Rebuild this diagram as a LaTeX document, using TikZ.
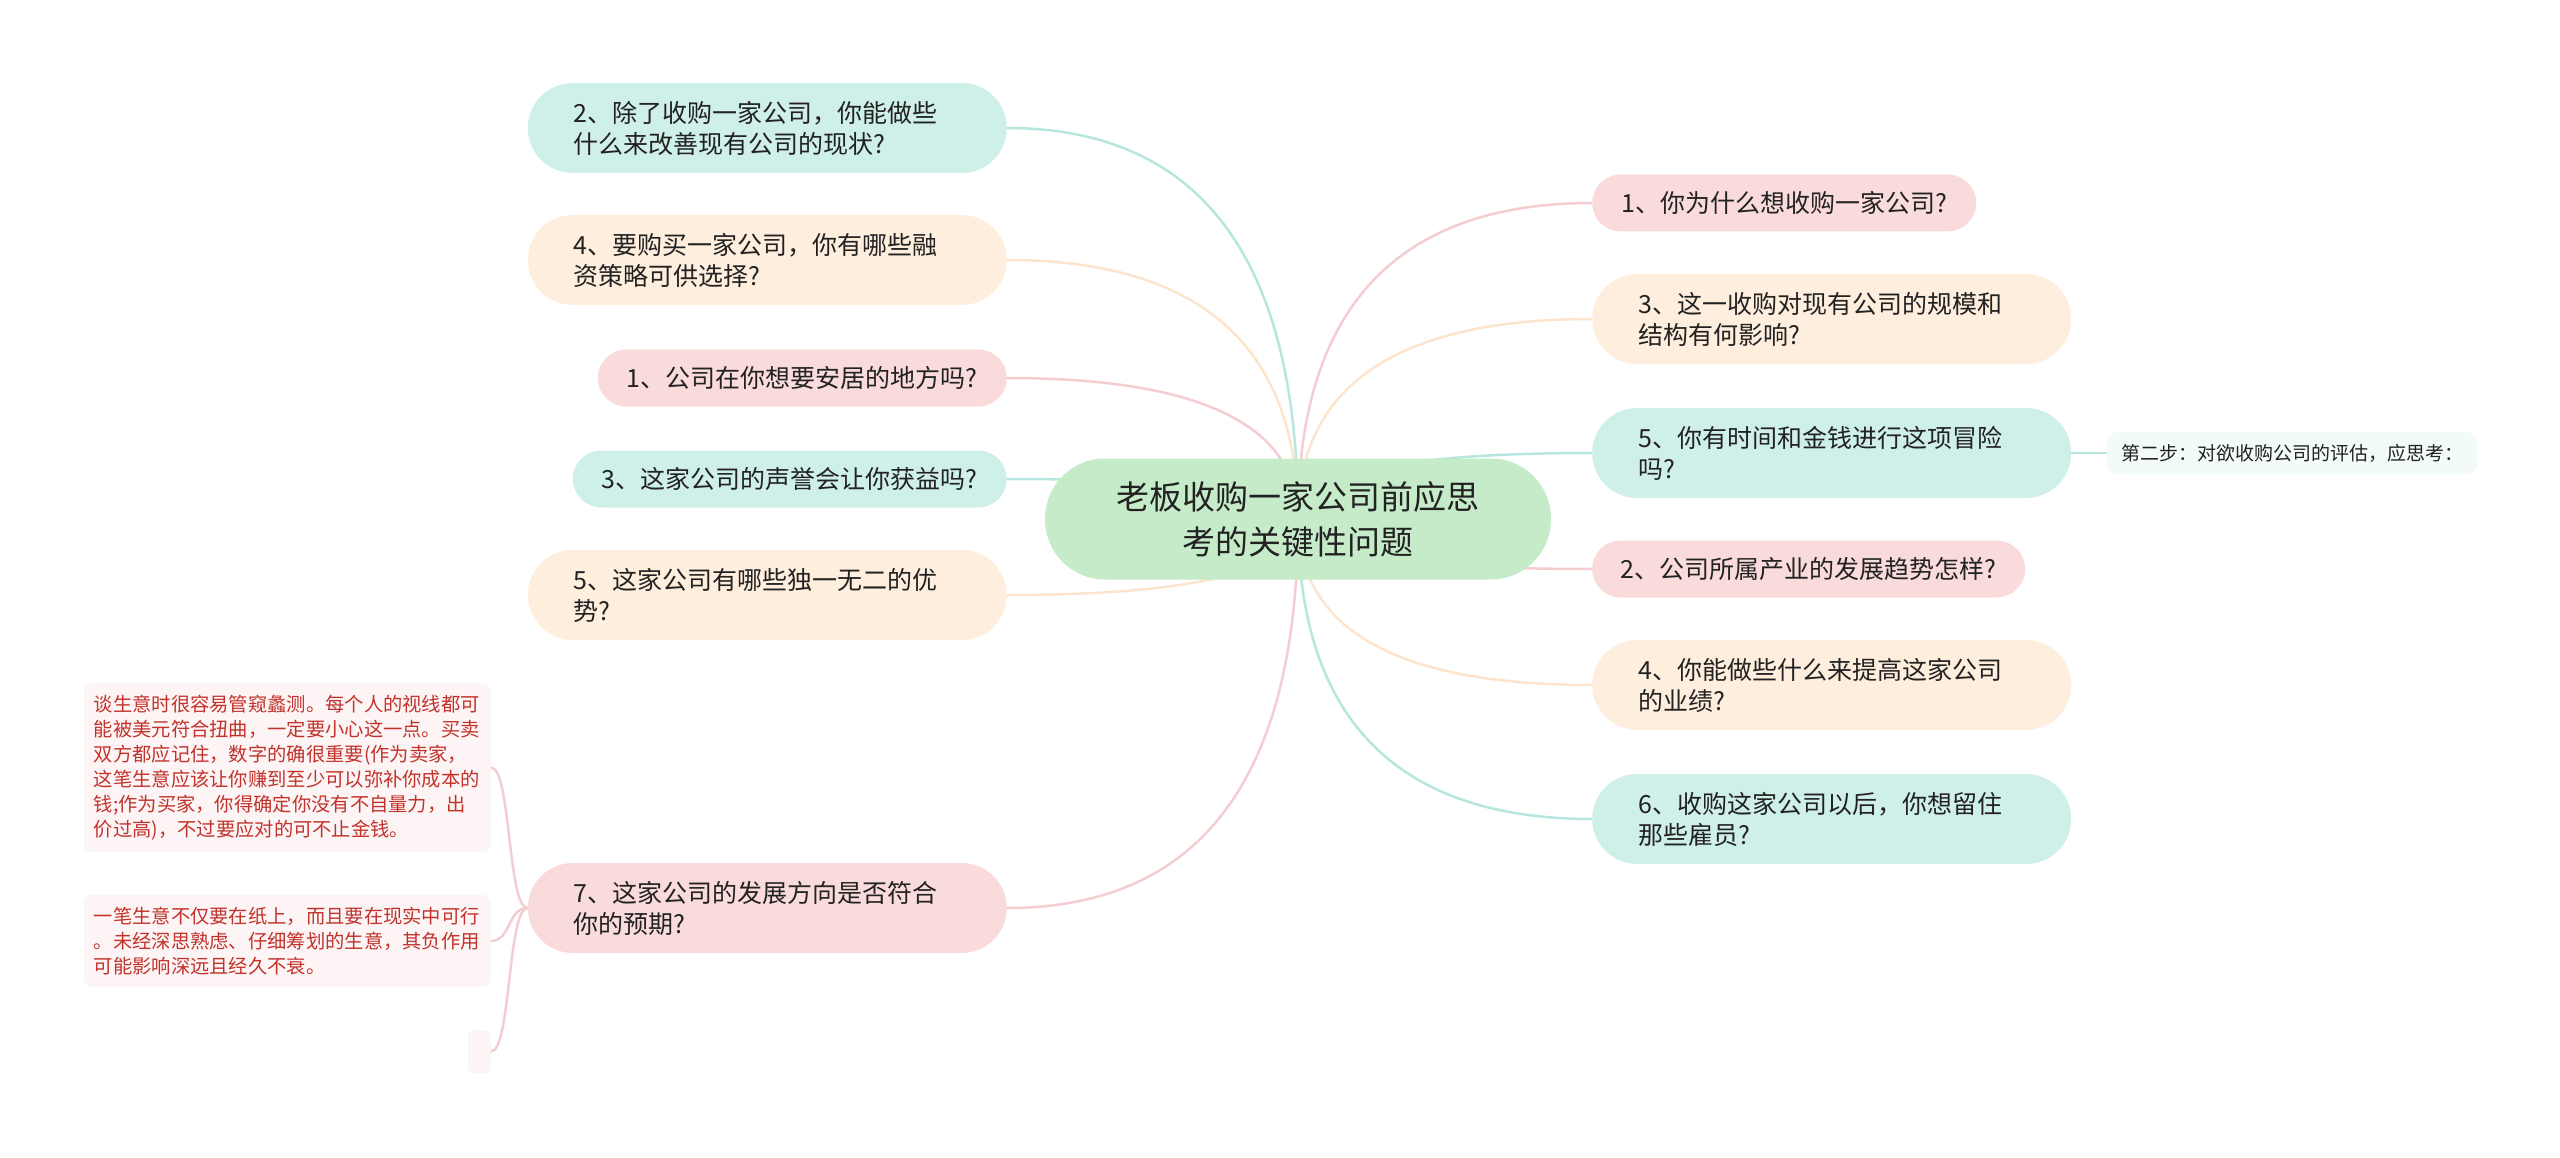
\documentclass[tikz,border=0pt]{standalone}
\usepackage{fontspec}
\setmainfont{Noto Sans CJK SC}
\usetikzlibrary{backgrounds,calc}
\definecolor{tealfill}{HTML}{CFEFE9}
\definecolor{tealline}{HTML}{B6E6DD}
\definecolor{peachfill}{HTML}{FDEEDD}
\definecolor{peachline}{HTML}{FCE5CC}
\definecolor{pinkfill}{HTML}{FADBDB}
\definecolor{pinkline}{HTML}{F4CDD0}
\definecolor{greenfill}{HTML}{C6EBC9}
\definecolor{farfill}{HTML}{F2FAFA}
\definecolor{notefill}{HTML}{FDF5F5}
\definecolor{notered}{HTML}{C2322B}
\definecolor{textdark}{HTML}{222222}
\tikzset{
  base/.style={draw=none, text=textdark, inner ysep=0pt},
  twoline/.style={base, font=\fontsize{25}{31}\selectfont, minimum height=90pt,
    rounded corners=45pt, text width=387pt, align=left, inner xsep=46pt},
  oneline/.style={base, font=\fontsize{25}{31}\selectfont, minimum height=57pt,
    rounded corners=28.5pt, minimum width=#1, inner xsep=0pt, align=center},
  notebox/.style={fill=notefill, draw=none, rounded corners=8pt, text=notered,
    font=\fontsize{19.3}{25}\selectfont, align=left, text width=387pt,
    inner xsep=10pt, inner ysep=0pt},
  conn/.style={line width=2.5pt},
  branch/.style={conn, to path={
    .. controls ($(\tikztostart)!0.69!(\tikztostart -| \tikztotarget)$)
    and ($(\tikztotarget)!0.64!(\tikztostart -| \tikztotarget)$)
    .. (\tikztotarget)}},
}
\begin{document}
\begin{tikzpicture}[x=1pt,y=-1pt]
\useasboundingbox (0,0) rectangle (2560,1158);

% central
\node[base, fill=greenfill, minimum width=506pt, minimum height=121pt,
  rounded corners=60pt, inner xsep=0pt, align=center,
  font=\fontsize{33}{45}\selectfont] (C) at (1298,519)
  {老板收购一家公司前应思\\考的关键性问题};

% left branches
\node[twoline, fill=tealfill, anchor=east] (L1) at (1007,128)
  {2、除了收购一家公司，你能做些\\什么来改善现有公司的现状?};
\node[twoline, fill=peachfill, anchor=east] (L2) at (1007,260)
  {4、要购买一家公司，你有哪些融\\资策略可供选择?};
\node[oneline=409pt, fill=pinkfill, anchor=east] (L3) at (1007,378)
  {1、公司在你想要安居的地方吗?};
\node[oneline=434pt, fill=tealfill, anchor=east] (L4) at (1007,479)
  {3、这家公司的声誉会让你获益吗?};
\node[twoline, fill=peachfill, anchor=east] (L5) at (1007,595)
  {5、这家公司有哪些独一无二的优\\势?};
\node[twoline, fill=pinkfill, anchor=east] (L7) at (1007,908)
  {7、这家公司的发展方向是否符合\\你的预期?};

% right branches
\node[oneline=384pt, fill=pinkfill, anchor=west] (R1) at (1592,203)
  {1、你为什么想收购一家公司?};
\node[twoline, fill=peachfill, anchor=west] (R3) at (1592,319)
  {3、这一收购对现有公司的规模和\\结构有何影响?};
\node[twoline, fill=tealfill, anchor=west] (R5) at (1592,453)
  {5、你有时间和金钱进行这项冒险\\吗?};
\node[oneline=433pt, fill=pinkfill, anchor=west] (R2) at (1592,569)
  {2、公司所属产业的发展趋势怎样?};
\node[twoline, fill=peachfill, anchor=west] (R4) at (1592,685)
  {4、你能做些什么来提高这家公司\\的业绩?};
\node[twoline, fill=tealfill, anchor=west] (R6) at (1592,819)
  {6、收购这家公司以后，你想留住\\那些雇员?};

% far right
\node[base, fill=farfill, rounded corners=10pt, minimum width=370pt,
  minimum height=42pt, inner xsep=0pt, font=\fontsize{19}{24}\selectfont,
  anchor=west] (F) at (2107,453) {第二步：对欲收购公司的评估，应思考：};

% notes of L7
\node[notebox, minimum height=169pt, anchor=east] (N1) at (491,767.5)
  {谈生意时很容易管窥蠡测。每个人的视线都可\\能被美元符合扭曲，一定要小心这一点。买卖\\双方都应记住，数字的确很重要(作为卖家，\\这笔生意应该让你赚到至少可以弥补你成本的\\钱;作为买家，你得确定你没有不自量力，出\\价过高)，不过要应对的可不止金钱。};
\node[notebox, minimum height=92pt, anchor=east] (N2) at (491,941)
  {一笔生意不仅要在纸上，而且要在现实中可行\\。未经深思熟虑、仔细筹划的生意，其负作用\\可能影响深远且经久不衰。};
\node[fill=notefill, draw=none, rounded corners=6pt, minimum width=23pt,
  minimum height=43pt, inner sep=0pt, anchor=east] (N3) at (491,1051.5) {};

\begin{scope}[on background layer]
  \draw[branch, tealline]  (L1.east) to (C.center);
  \draw[branch, peachline] (L2.east) to (C.center);
  \draw[branch, pinkline]  (L3.east) to (C.center);
  \draw[branch, tealline]  (L4.east) to (C.center);
  \draw[branch, peachline] (L5.east) to (C.center);
  \draw[branch, pinkline]  (L7.east) to (C.center);
  \draw[branch, pinkline]  (R1.west) to (C.center);
  \draw[branch, peachline] (R3.west) to (C.center);
  \draw[branch, tealline]  (R5.west) to (C.center);
  \draw[branch, pinkline]  (R2.west) to (C.center);
  \draw[branch, peachline] (R4.west) to (C.center);
  \draw[branch, tealline]  (R6.west) to (C.center);
  \draw[conn, tealline]  (R5.east) -- (F.west);
  \draw[conn, pinkline]  (L7.west) .. controls +(-20,0) and +(20,0) .. (N1.east);
  \draw[conn, pinkline]  (L7.west) .. controls +(-20,0) and +(20,0) .. (N2.east);
  \draw[conn, pinkline]  (L7.west) .. controls +(-20,0) and +(20,0) .. (N3.east);
\end{scope}
\end{tikzpicture}
\end{document}
